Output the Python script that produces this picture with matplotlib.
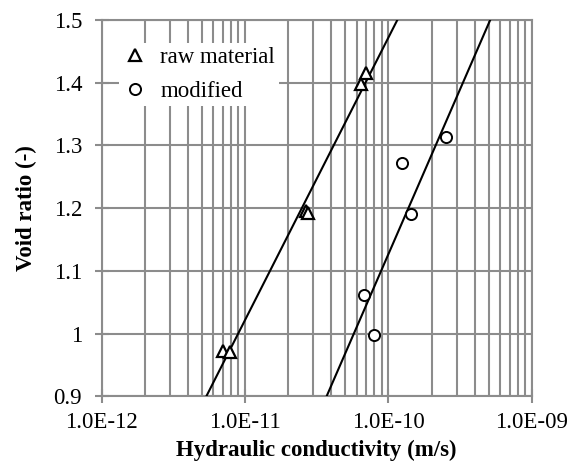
import numpy as np
import matplotlib
matplotlib.use("Agg")
import matplotlib.pyplot as plt
from matplotlib.ticker import FixedLocator, LogLocator, NullFormatter

# data
raw_k = [7.0e-12, 7.8e-12, 2.66e-11, 2.75e-11, 6.45e-11, 6.95e-11]
raw_e = [0.972, 0.970, 1.196, 1.193, 1.398, 1.415]
mod_k = [6.77e-11, 7.98e-11, 1.25e-10, 1.43e-10, 2.52e-10]
mod_e = [1.062, 0.998, 1.272, 1.191, 1.313]

x_ticks = [1e-12, 1e-11, 1e-10, 1e-9]
x_labels = ["1.0E-12", "1.0E-11", "1.0E-10", "1.0E-09"]
y_ticks = [0.9, 1.0, 1.1, 1.2, 1.3, 1.4, 1.5]
y_labels = ["0.9", "1", "1.1", "1.2", "1.3", "1.4", "1.5"]

plt.rcParams['font.family'] = ['Liberation Serif', 'DejaVu Serif']
fs = 16.5

fig = plt.figure(figsize=(5.69, 4.68), dpi=100)
ax = fig.add_axes([0.1787, 0.1532, 0.7558, 0.8041])

ax.set_xscale('log')
ax.set_xlim(1e-12, 1e-9)
ax.set_ylim(0.9, 1.5)

# log trend lines (e vs log10 k), like the spreadsheet trendlines
xx = np.logspace(-12, -9, 200)
for k, e in [(raw_k, raw_e), (mod_k, mod_e)]:
    p = np.polyfit(np.log10(k), e, 1)
    ax.plot(xx, np.polyval(p, np.log10(xx)), color='black', lw=1.5, zorder=3)

ax.plot(raw_k, raw_e, linestyle='none', marker='^', markersize=9,
        markerfacecolor='white', markeredgecolor='black', markeredgewidth=1.6,
        label='raw material', zorder=4)
ax.plot(mod_k, mod_e, linestyle='none', marker='o', markersize=8,
        markerfacecolor='white', markeredgecolor='black', markeredgewidth=1.4,
        label='modified', zorder=4)

ax.xaxis.set_major_locator(FixedLocator(x_ticks))
ax.set_xticklabels(x_labels)
ax.xaxis.set_minor_locator(LogLocator(base=10, subs=np.arange(2, 10)))
ax.xaxis.set_minor_formatter(NullFormatter())
ax.set_yticks(y_ticks)
ax.set_yticklabels(y_labels)

grid_col = '#8c8c8c'
ax.set_axisbelow(True)
ax.grid(True, which='major', axis='y', color=grid_col, lw=1.5)
ax.grid(True, which='both', axis='x', color=grid_col, lw=1.5)
for s in ax.spines.values():
    s.set_color(grid_col)
    s.set_linewidth(1.5)

ax.tick_params(axis='y', which='major', direction='inout', length=10,
               width=1.5, color=grid_col, labelsize=fs, pad=9)
ax.tick_params(axis='x', which='major', direction='inout', length=10,
               width=1.5, color=grid_col, labelsize=fs, pad=6)
ax.tick_params(axis='x', which='minor', length=0)

ax.set_xlabel('Hydraulic conductivity (m/s)', fontsize=fs, fontweight='bold',
              labelpad=5)
ax.set_ylabel('Void ratio (-)', fontsize=fs, fontweight='bold', labelpad=12)

leg = ax.legend(loc='upper left', bbox_to_anchor=(0.04, 0.94), fontsize=fs,
                frameon=True, fancybox=False, framealpha=1, edgecolor='white',
                borderpad=0.2, borderaxespad=0, handlelength=1.0,
                handletextpad=0.6, labelspacing=0.55)
leg.get_frame().set_linewidth(0)

fig.savefig('out.png', dpi=100)
